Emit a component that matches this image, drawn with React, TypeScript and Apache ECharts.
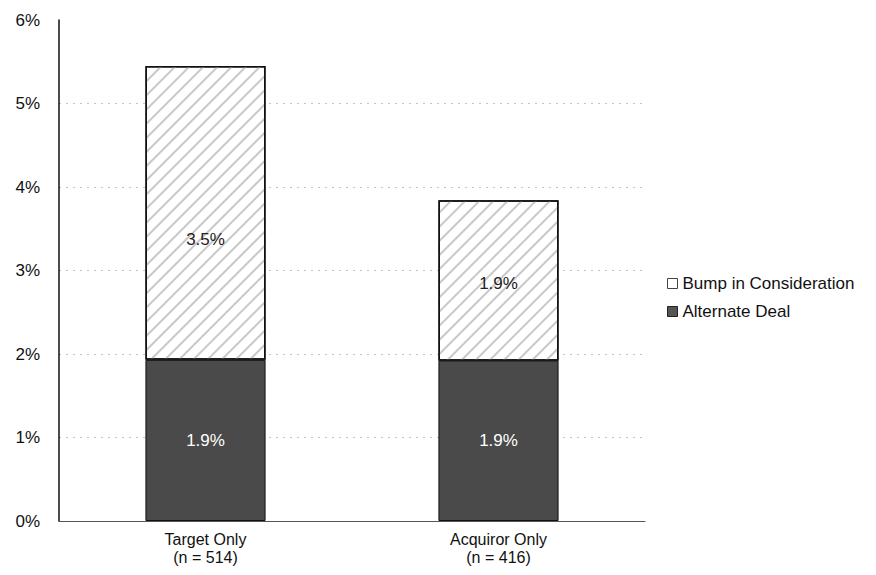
import React, { useEffect, useRef } from "react";
import * as echarts from "echarts";

const categories = ["Target Only\n(n = 514)", "Acquiror Only\n(n = 416)"];
const alternateDeal = [1.93, 1.92];
const bumpInConsideration = [3.52, 1.92];
const yTicks = [0, 1, 2, 3, 4, 5, 6];

export default function App() {
  const ref = useRef<HTMLDivElement>(null);
  useEffect(() => {
    const chart = echarts.init(ref.current!, undefined, { renderer: "svg" });
    const font = "Liberation Sans, Arial, sans-serif";
    const gridColors = yTicks.map((_, i) => (i === yTicks.length - 1 ? "rgba(0,0,0,0)" : "#c4c4c4"));
    chart.setOption({
      animation: false,
      backgroundColor: "#ffffff",
      grid: { left: 59, top: 20, right: 231, bottom: 54 },
      legend: {
        orient: "vertical",
        left: 662,
        top: 270,
        itemWidth: 10,
        itemHeight: 10,
        itemGap: 11,
        textStyle: { fontFamily: font, fontSize: 17, color: "#111" },
        data: [
          { name: "Bump in Consideration", icon: "rect", itemStyle: { color: "#fff", borderColor: "#444", borderWidth: 1, decal: "none" } },
          { name: "Alternate Deal", icon: "rect", itemStyle: { color: "#555", borderColor: "#222", borderWidth: 1 } },
        ],
      },
      xAxis: {
        type: "category",
        data: categories,
        axisLine: { lineStyle: { color: "#555", width: 1 } },
        axisTick: { show: false },
        axisLabel: { fontFamily: font, fontSize: 16, color: "#111", lineHeight: 18, margin: 9 },
      },
      yAxis: {
        type: "value",
        min: yTicks[0],
        max: yTicks[yTicks.length - 1],
        interval: 1,
        axisLine: { show: true, lineStyle: { color: "#111", width: 1.5 } },
        axisTick: { show: false },
        axisLabel: { fontFamily: font, fontSize: 17, color: "#111", margin: 19, formatter: (v: number) => v + "%" },
        splitLine: { lineStyle: { color: gridColors, type: [2, 5], width: 1 } },
      },
      series: [
        {
          name: "Alternate Deal",
          type: "bar",
          stack: "total",
          barWidth: "41%",
          data: alternateDeal,
          itemStyle: { color: "#4a4a4a", borderColor: "#111", borderWidth: 1 },
          label: {
            show: true,
            position: "inside",
            color: "#fff",
            fontFamily: font,
            fontSize: 17,
            formatter: (p: any) => p.value.toFixed(1) + "%",
          },
        },
        {
          name: "Bump in Consideration",
          type: "bar",
          stack: "total",
          data: bumpInConsideration.map((v, i) =>
            i === 0 ? { value: v, label: { offset: [0, 27] } } : { value: v, label: { offset: [0, 3] } }
          ),
          itemStyle: {
            color: "#ffffff",
            borderColor: "#111",
            borderWidth: 1.5,
            decal: {
              symbol: "rect",
              symbolSize: 1,
              color: "#c8c8c8",
              dashArrayX: [1, 0],
              dashArrayY: [1.3, 8],
              rotation: -Math.PI / 4,
            },
          },
          label: {
            show: true,
            position: "inside",
            color: "#222",
            fontFamily: font,
            fontSize: 17,
            formatter: (p: any) => p.value.toFixed(1) + "%",
          },
        },
      ],
    });
    return () => chart.dispose();
  }, []);
  return <div ref={ref} style={{ width: 876, height: 575, margin: -8 }} />;
}
